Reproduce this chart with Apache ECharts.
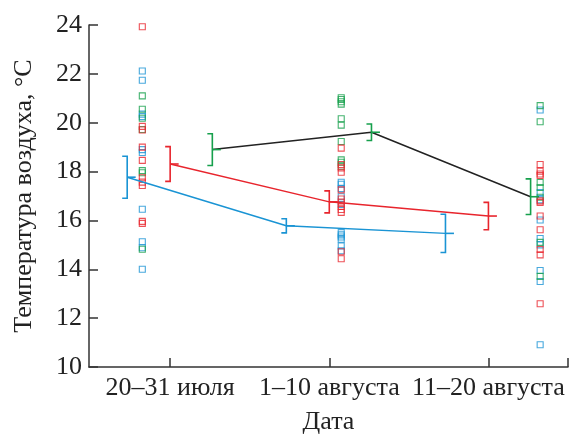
<!DOCTYPE html>
<html>
<head>
<meta charset="utf-8">
<script src="https://cdn.jsdelivr.net/npm/echarts@6/dist/echarts.min.js"></script>
<style>html,body{margin:0;padding:0;background:#fff}#c{width:571px;height:434px}</style>
</head>
<body>
<div id="c"></div>
<script>
// ---- data ----
const categories = ['20–31 июля', '1–10 августа', '11–20 августа'];
const catPos = [1, 2, 3];
const yTicks = [10, 12, 14, 16, 18, 20, 22, 24];

// means and half-widths of the error brackets
const blueMean = [17.77, 15.78, 15.47];
const blueErr  = [0.86, 0.29, 0.78];
const redMean  = [18.31, 16.76, 16.18];
const redErr   = [0.71, 0.45, 0.56];
const blackMean = [18.90, 19.61, 16.97];
const greenErr  = [0.65, 0.335, 0.73];

// individual observations per period
const redPts1 = [23.93, 19.85, 19.70, 19.00, 18.46, 17.75, 17.57, 17.43, 15.96, 15.88];
const greenPts1 = [21.10, 20.55, 20.18, 19.72, 18.04, 17.95, 14.82];
const bluePts1 = [22.12, 21.74, 20.35, 20.25, 18.90, 18.78, 16.46, 15.13, 14.88, 14.00];

const redPts2 = [18.96, 18.29, 18.15, 17.97, 17.25, 16.88, 16.75, 16.57, 16.45, 16.33, 14.72, 14.43];
const greenPts2 = [21.02, 20.95, 20.86, 20.76, 20.16, 19.90, 19.23, 18.48, 18.38, 18.22];
const bluePts2 = [17.56, 17.48, 17.30, 16.97, 16.65, 15.50, 15.41, 15.32, 15.23, 14.96, 14.76];

const redPts3 = [18.29, 18.02, 17.90, 17.84, 16.80, 16.74, 16.18, 15.62, 14.81, 14.59, 12.59];
const greenPts3 = [20.70, 20.04, 17.55, 17.35, 16.95, 15.10, 13.71];
const bluePts3 = [20.52, 17.14, 16.84, 16.02, 15.26, 15.00, 13.95, 13.50, 10.91];

// ---- styling / layout ----
const RED = '#e8252d', GREEN = '#16a04c', BLUE = '#1a94d4', BLACK = '#222222';
const FONT = 'Liberation Serif';
const offBlue = -0.27, offRed = 0, offBlack = 0.265;
const scatterOff = [-0.175, 0.075, 0.325];

function pts(cols) {
  const out = [];
  cols.forEach((arr, i) => arr.forEach(v => out.push([catPos[i] + scatterOff[i], v])));
  return out;
}
function scatter(cols, color) {
  return {
    type: 'scatter', data: pts(cols), symbol: 'rect', symbolSize: 6,
    itemStyle: { color: 'rgba(255,255,255,0)', borderColor: color, borderWidth: 1.1 },
    silent: true, z: 2
  };
}
function line(means, off, color) {
  return {
    type: 'line', data: catPos.map((p, i) => [p + off, means[i]]),
    symbol: 'none', lineStyle: { color: color, width: 1.5 }, z: 3, silent: true
  };
}
function errbar(means, errs, off, color) {
  return {
    type: 'custom', z: 4, silent: true, clip: false,
    data: catPos.map((p, i) => [p + off, means[i], errs[i]]),
    encode: { x: 0, y: 1 },
    renderItem: function (params, api) {
      const x = api.value(0), m = api.value(1), e = api.value(2);
      const t = api.coord([x, m + e]), b = api.coord([x, m - e]), c = api.coord([x, m]);
      const st = { stroke: color, lineWidth: 1.6, fill: null };
      return {
        type: 'group', children: [
          { type: 'polyline', shape: { points: [[t[0] - 5, t[1]], [t[0], t[1]], [b[0], b[1]], [b[0] - 5, b[1]]] }, style: st },
          { type: 'line', shape: { x1: c[0], y1: c[1], x2: c[0] + 8.5, y2: c[1] }, style: st }
        ]
      };
    }
  };
}

const chart = echarts.init(document.getElementById('c'), null, { renderer: 'canvas' });
chart.setOption({
  animation: false,
  backgroundColor: '#fff',
  grid: { left: 89, right: 3, top: 25, bottom: 67, containLabel: false, outerBoundsMode: 'none' },
  xAxis: {
    type: 'value', min: 0.49, max: 3.5,
    name: 'Дата', nameLocation: 'middle', nameGap: 42,
    nameTextStyle: { fontFamily: FONT, fontSize: 26, color: '#222' },
    axisLine: { show: true, lineStyle: { color: '#333', width: 1.5 } },
    axisTick: { show: true, inside: true, length: 9, customValues: [1, 2, 3, 3.5], lineStyle: { color: '#333', width: 1.5 } },
    axisLabel: {
      customValues: catPos, margin: 8,
      formatter: v => categories[catPos.indexOf(v)] || '',
      fontFamily: FONT, fontSize: 26, color: '#222'
    },
    splitLine: { show: false }
  },
  yAxis: {
    type: 'value', min: 10, max: 24, interval: 2,
    name: 'Температура воздуха, °C', nameLocation: 'middle', nameGap: 52,
    nameTextStyle: { fontFamily: FONT, fontSize: 26, color: '#222' },
    axisLine: { show: true, lineStyle: { color: '#333', width: 1.5 } },
    axisTick: { show: true, inside: true, length: 9, lineStyle: { color: '#333', width: 1.5 } },
    axisLabel: { margin: 7, fontFamily: FONT, fontSize: 26, color: '#222',
      formatter: v => yTicks.indexOf(v) >= 0 ? String(v) : '' },
    splitLine: { show: false }
  },
  series: [
    scatter([bluePts1, bluePts2, bluePts3], BLUE),
    scatter([greenPts1, greenPts2, greenPts3], GREEN),
    scatter([redPts1, redPts2, redPts3], RED),
    line(blueMean, offBlue, BLUE),
    line(redMean, offRed, RED),
    line(blackMean, offBlack, BLACK),
    errbar(blueMean, blueErr, offBlue, BLUE),
    errbar(redMean, redErr, offRed, RED),
    errbar(blackMean, greenErr, offBlack, GREEN)
  ]
});
</script>
</body>
</html>
